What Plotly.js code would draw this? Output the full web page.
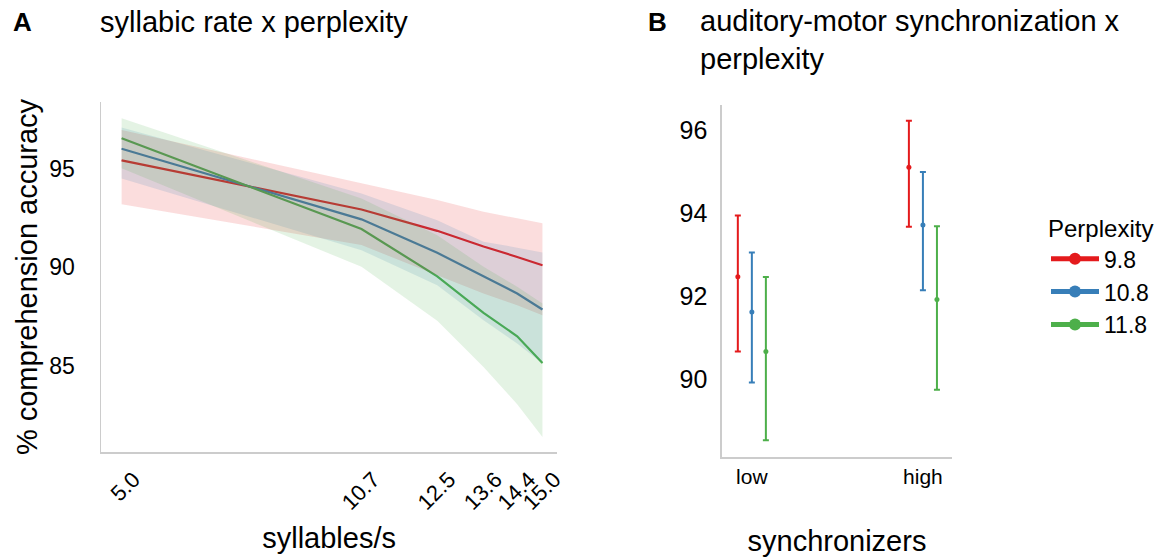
<!DOCTYPE html>
<html><head><meta charset="utf-8">
<script src="https://cdn.plot.ly/plotly-3.0.1.min.js"></script>
<style>html,body{margin:0;padding:0;background:#fff}#chart{width:1159px;height:558px}</style>
</head><body><div id="chart"></div>
<script>
// ---------- data ----------
const perplexityLevels = ['9.8', '10.8', '11.8'];

// Panel A: syllabic rate x perplexity (model estimates with CI ribbons)
const syllableRates = [5.0, 10.7, 12.5, 13.6, 14.4, 15.0];
const rateTickText = ['5.0', '10.7', '12.5', '13.6', '14.4', '15.0'];
const rateMean98  = [95.41, 92.93, 91.85, 91.06, 90.53, 90.11];
const rateUpper98 = [96.95, 94.25, 93.41, 92.81, 92.48, 92.23];
const rateLower98 = [93.20, 91.13, 89.60, 88.68, 88.09, 87.58];
const rateMean108  = [96.00, 92.43, 90.74, 89.56, 88.68, 87.87];
const rateUpper108 = [97.07, 93.74, 92.39, 91.30, 91.00, 90.75];
const rateLower108 = [94.50, 90.87, 89.10, 87.33, 86.15, 85.14];
const rateMean118  = [96.53, 91.94, 89.55, 87.70, 86.52, 85.17];
const rateUpper118 = [97.54, 93.49, 91.63, 90.03, 89.02, 88.18];
const rateLower118 = [95.01, 90.03, 87.30, 84.96, 83.08, 81.42];
const accuracyTicks = [85, 90, 95];

// Panel B: auditory-motor synchronization x perplexity
const syncLevels = ['low', 'high'];
const syncMean98  = [92.47, 95.10];
const syncUpper98 = [93.94, 96.22];
const syncLower98 = [90.67, 93.67];
const syncMean108  = [91.62, 93.71];
const syncUpper108 = [93.05, 94.99];
const syncLower108 = [89.92, 92.14];
const syncMean118  = [90.67, 91.92];
const syncUpper118 = [92.46, 93.68];
const syncLower118 = [88.53, 89.75];
const syncTicks = [90, 92, 94, 96];

// ---------- styling ----------
const colors = ['#e41a1c', '#377eb8', '#4daf4a'];
const ribbonColors = ['rgba(228,26,28,0.15)', 'rgba(55,126,184,0.15)', 'rgba(77,175,74,0.15)'];
const FONT = '"Liberation Sans", Arial, Helvetica, sans-serif';
const W = 1159, H = 558;
const M = {l: 101, r: 207.3, t: 100, b: 101.3};
const innerW = W - M.l - M.r, innerH = H - M.t - M.b;
const px2x = p => (p - M.l) / innerW;
const py2y = p => (H - M.b - p) / innerH;

const rateMeans = [rateMean98, rateMean108, rateMean118];
const rateUppers = [rateUpper98, rateUpper108, rateUpper118];
const rateLowers = [rateLower98, rateLower108, rateLower118];
const syncMeans = [syncMean98, syncMean108, syncMean118];
const syncUppers = [syncUpper98, syncUpper108, syncUpper118];
const syncLowers = [syncLower98, syncLower108, syncLower118];
const dodge = [-0.082, 0, 0.082];

const traces = [];
// lines first (ribbons drawn on top, as in the reference)
perplexityLevels.forEach((lev, i) => {
  traces.push({
    type: 'scatter', mode: 'lines+markers', name: lev,
    x: syllableRates, y: rateMeans[i],
    line: {color: colors[i], width: 2.2},
    marker: {color: colors[i], size: 0.5},
    xaxis: 'x', yaxis: 'y', hoverinfo: 'skip'
  });
});
perplexityLevels.forEach((lev, i) => {
  traces.push({
    type: 'scatter', mode: 'none', showlegend: false,
    x: syllableRates.concat(syllableRates.slice().reverse()),
    y: rateUppers[i].concat(rateLowers[i].slice().reverse()),
    fill: 'toself', fillcolor: ribbonColors[i],
    xaxis: 'x', yaxis: 'y', hoverinfo: 'skip'
  });
});
perplexityLevels.forEach((lev, i) => {
  traces.push({
    type: 'scatter', mode: 'markers', showlegend: false, name: lev,
    x: syncLevels.map((_, k) => k + dodge[i]),
    y: syncMeans[i],
    marker: {color: colors[i], size: 5},
    error_y: {
      type: 'data', symmetric: false,
      array: syncUppers[i].map((u, k) => u - syncMeans[i][k]),
      arrayminus: syncMeans[i].map((m, k) => m - syncLowers[i][k]),
      color: colors[i], thickness: 2, width: 3
    },
    xaxis: 'x2', yaxis: 'y2'
  });
});

const axisLine = {showline: true, linecolor: '#cccccc', linewidth: 1.5, showgrid: false, zeroline: false, ticks: ''};

const layout = {
  width: W, height: H,
  margin: M,
  paper_bgcolor: '#fff', plot_bgcolor: '#fff',
  font: {family: FONT, color: '#000'},
  showlegend: true,
  legend: {
    xref: 'container', yref: 'container',
    x: 1046 / W, xanchor: 'left', y: 1 - 206 / H, yanchor: 'top',
    font: {size: 23, family: FONT},
    title: {text: 'Perplexity', font: {size: 24, family: FONT}},
    itemsizing: 'constant', itemwidth: 48, bgcolor: 'rgba(0,0,0,0)'
  },
  xaxis: Object.assign({}, axisLine, {
    domain: [0, px2x(557)], range: [4.51, 15.35],
    tickmode: 'array', tickvals: syllableRates, ticktext: rateTickText,
    tickangle: -45, tickfont: {size: 22}, ticklabelstandoff: 4, ticklabelshift: 12,
    title: {text: 'syllables/s', font: {size: 29}, standoff: 14},
    anchor: 'y'
  }),
  yaxis: Object.assign({}, axisLine, {
    domain: [py2y(452), py2y(101.7)], range: [80.65, 98.38],
    tickmode: 'array', tickvals: accuracyTicks, tickfont: {size: 23},
    ticklabelstandoff: 20,
    title: {text: '% comprehension accuracy', font: {size: 29}, standoff: 3},
    anchor: 'x'
  }),
  xaxis2: Object.assign({}, axisLine, {
    domain: [px2x(721.7), 1], range: [-0.175, 1.17],
    tickmode: 'array', tickvals: syncLevels.map((_, k) => k), ticktext: syncLevels,
    tickfont: {size: 21}, ticklabelstandoff: 0,
    title: {text: 'synchronizers', font: {size: 29}, standoff: 44},
    anchor: 'y2'
  }),
  yaxis2: Object.assign({}, axisLine, {
    domain: [0, py2y(105)], range: [88.13, 96.6],
    tickmode: 'array', tickvals: syncTicks, tickfont: {size: 25},
    ticklabelstandoff: 8,
    anchor: 'x2'
  }),
  annotations: [
    {text: '<b>A</b>', xref: 'paper', yref: 'paper', x: px2x(11), y: py2y(22), xanchor: 'left', yanchor: 'middle', showarrow: false, font: {size: 26}},
    {text: 'syllabic rate x perplexity', xref: 'paper', yref: 'paper', x: px2x(98), y: py2y(22), xanchor: 'left', yanchor: 'middle', showarrow: false, font: {size: 29}},
    {text: '<b>B</b>', xref: 'paper', yref: 'paper', x: px2x(646), y: py2y(22), xanchor: 'left', yanchor: 'middle', showarrow: false, font: {size: 26}},
    {text: 'auditory-motor synchronization x<br>perplexity', xref: 'paper', yref: 'paper', x: px2x(698), y: py2y(40), xanchor: 'left', yanchor: 'middle', align: 'left', showarrow: false, font: {size: 29}}
  ]
};

Plotly.newPlot('chart', traces, layout, {displayModeBar: false, staticPlot: true});
</script>
</body></html>
